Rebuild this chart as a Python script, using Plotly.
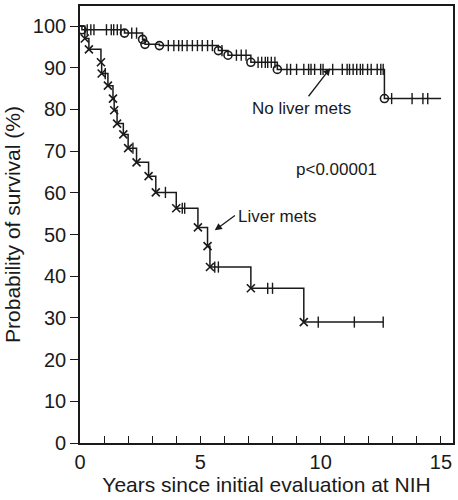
import numpy as np
import plotly.graph_objects as go

# No liver mets: step times and survival (%)
noliver_t = [0, 0.08, 1.85, 2.6, 2.7, 3.3, 5.75, 6.15, 7.1, 8.2, 12.65]
noliver_s = [100, 99.1, 98.3, 96.8, 95.6, 95.3, 94.1, 93.0, 91.3, 89.6, 82.6]
noliver_end = 15.0
noliver_censor = [0.3, 0.45, 0.58, 1.1, 1.3, 1.4, 1.55, 1.7, 2.15, 2.35,
                  3.67, 3.9, 4.1, 4.25, 4.45, 4.67, 4.88, 5.08, 5.3, 5.5, 5.9,
                  6.5, 6.7, 6.9, 7.4, 7.55, 7.7, 7.8, 7.95, 8.1,
                  8.6, 8.75, 9.0, 9.3, 9.5, 9.6, 9.75, 10.0, 10.1, 10.5, 10.9,
                  11.1, 11.2, 11.35, 11.5, 11.65, 11.75, 11.95, 12.1, 12.35, 12.5, 12.6,
                  12.95, 13.8, 14.25, 14.45]

# Liver mets
liver_t = [0, 0.2, 0.37, 0.87, 0.9, 1.16, 1.37, 1.42, 1.54, 1.8, 2.0, 2.35,
           2.85, 3.15, 4.0, 4.9, 5.3, 5.4, 7.1, 9.3]
liver_s = [100, 97.0, 94.4, 91.3, 88.6, 85.7, 82.6, 79.8, 76.6, 74.0, 70.7, 67.3,
           64.0, 60.1, 56.3, 51.7, 47.2, 42.2, 37.1, 29.0]
liver_end = 12.6
liver_censor = [1.05, 2.2, 3.55, 4.25, 4.35, 5.6, 5.75, 7.8, 8.0, 9.9, 11.4, 12.6]

x_ticks = [0, 5, 10, 15]
x_minor = list(range(1, 16))
y_ticks = [0, 10, 20, 30, 40, 50, 60, 70, 80, 90, 100]

INK = "#1a1a1a"
FONT = "Liberation Sans, Arial, sans-serif"


def step_at(times, surv, q):
    idx = np.searchsorted(np.array(times), np.array(q), side="right") - 1
    return list(np.array(surv)[idx])


fig = go.Figure()

for t, s, end, cens, sym in [
    (noliver_t, noliver_s, noliver_end, noliver_censor, "circle-open"),
    (liver_t, liver_s, liver_end, liver_censor, "x-thin-open"),
]:
    fig.add_trace(go.Scatter(x=t + [end], y=s + [s[-1]], mode="lines",
                             line=dict(shape="hv", color=INK, width=1.5),
                             hoverinfo="skip", showlegend=False))
    fig.add_trace(go.Scatter(x=t[1:], y=s[1:], mode="markers",
                             marker=dict(symbol=sym, size=8, color=INK,
                                         line=dict(width=1.6, color=INK)),
                             showlegend=False))
    fig.add_trace(go.Scatter(x=cens, y=step_at(t, s, cens), mode="markers",
                             marker=dict(symbol="line-ns-open", size=8, color=INK,
                                         line=dict(width=1.4, color=INK)),
                             showlegend=False))

ANN = dict(family=FONT, size=17, color=INK)
fig.add_annotation(x=10.4, y=89.9, ax=9.45, ay=82.8, xref="x", yref="y",
                   axref="x", ayref="y", text="", showarrow=True,
                   arrowhead=2, arrowsize=1.1, arrowwidth=1.3, arrowcolor=INK)
fig.add_annotation(x=9.22, y=80.3, xref="x", yref="y", text="No liver mets",
                   showarrow=False, font=ANN)
fig.add_annotation(x=10.64, y=65.5, xref="x", yref="y", text="p<0.00001",
                   showarrow=False, font=ANN)
fig.add_annotation(x=5.6, y=51.0, ax=6.5, ay=54.8, xref="x", yref="y",
                   axref="x", ayref="y", text="", showarrow=True,
                   arrowhead=2, arrowsize=1.1, arrowwidth=1.3, arrowcolor=INK)
fig.add_annotation(x=6.5, y=54.3, xref="x", yref="y", text="Liver mets",
                   showarrow=False, xanchor="left", font=ANN)

fig.update_layout(
    width=458, height=500,
    margin=dict(l=80, r=5, t=6, b=57),
    paper_bgcolor="white", plot_bgcolor="white",
    font=dict(family=FONT, size=20, color=INK),
)
fig.update_xaxes(range=[0, 15.5], tickvals=x_ticks, ticks="inside", ticklen=7,
                 tickwidth=1.4, tickcolor=INK, automargin=False,
                 minor=dict(tickvals=x_minor, ticks="inside", ticklen=7,
                            tickwidth=1.4, tickcolor=INK),
                 showline=True, linecolor=INK, linewidth=1.6, mirror=True,
                 showgrid=False, zeroline=False,
                 title=dict(text="Years since initial evaluation at NIH", standoff=6,
                            font=dict(size=21)))
fig.update_yaxes(range=[0, 104.8], tickvals=y_ticks, ticks="outside", ticklen=8,
                 tickwidth=1.4, tickcolor=INK, automargin=False,
                 showline=True, linecolor=INK, linewidth=1.6, mirror=True,
                 showgrid=False, zeroline=False,
                 title=dict(text="Probability of survival (%)", standoff=6,
                            font=dict(size=21)))

fig.write_html("out.html", config={"displayModeBar": False},
               post_script="document.body.style.margin='0';")
